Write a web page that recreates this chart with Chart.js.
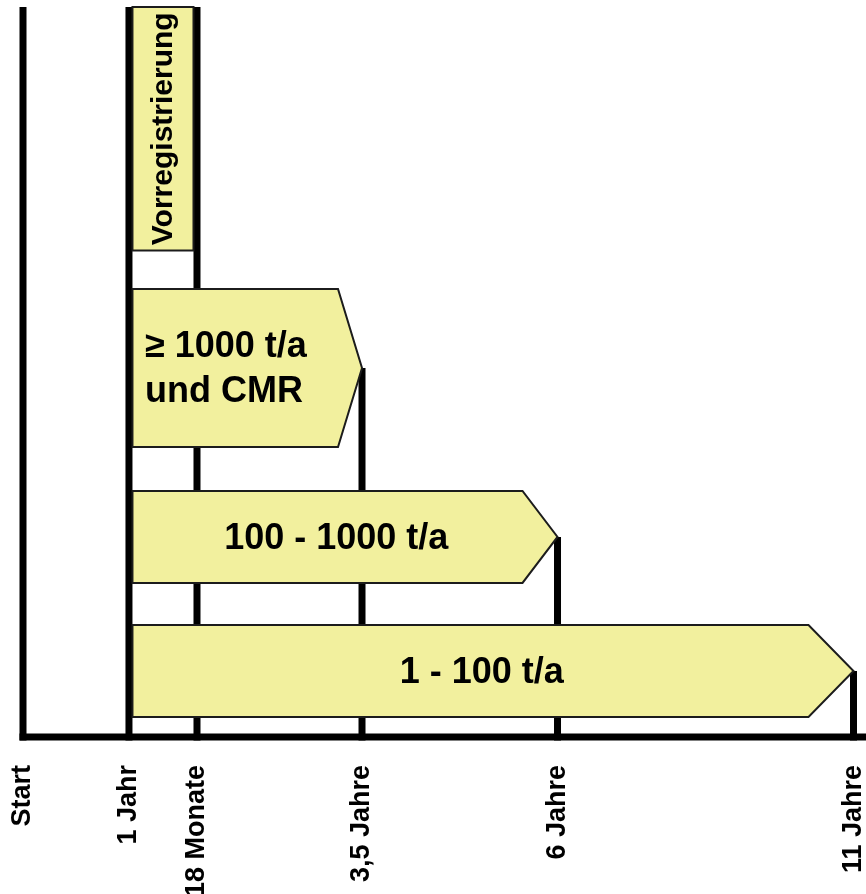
<!DOCTYPE html>
<html>
<head>
<meta charset="utf-8">
<script src="https://cdn.jsdelivr.net/npm/chart.js@4.4.1/dist/chart.umd.min.js"></script>
<style>
  html, body { margin: 0; padding: 0; background: #ffffff; }
  #wrap { width: 866px; height: 894px; position: relative; }
</style>
</head>
<body>
<div id="wrap"><canvas id="chart"></canvas></div>
<script>
// Milestones on the time axis (years after start) and their labels
const MILESTONE_YEARS = [0, 1, 1.5, 3.5, 6, 11];
const MILESTONE_LABELS = ['Start', '1 Jahr', '18 Monate', '3,5 Jahre', '6 Jahre', '11 Jahre'];

// Phases: label, start year, deadline year
const PHASE_LABELS = ['Vorregistrierung', ['≥ 1000 t/a', 'und CMR'], '100 - 1000 t/a', '1 - 100 t/a'];
const PHASE_START = [1, 1, 1, 1];
const PHASE_END = [1.5, 3.5, 6, 11];

// Layout of the diagram (not data)
const LANES = [[0, 33.36], [38.63, 60.27], [66.3, 78.9], [84.66, 97.26]]; // lane top/bottom in y units
const SHAPE = ['box', 'arrow', 'arrow', 'arrow'];
const HEAD_DEPTH = [0, 24, 35, 45];
const LABEL_MODE = ['vertical', 'left', 'center', 'center'];
const AXIS_FRACTIONS = [0, 0.1276, 0.2095, 0.4082, 0.6436, 1]; // schematic spacing of the milestones

const FONT = '"Liberation Sans", Arial, Helvetica, sans-serif';
const FILL = 'rgb(242, 240, 158)';
const EDGE = '#1c1c1c';
const LINE_W = 7;

// Schematic time axis: piecewise-linear between milestones
class TimelineScale extends Chart.LinearScale {
  static id = 'timeline';
  static defaults = {};
  getPixelForValue(value) {
    if (value === null || value === undefined || isNaN(value)) return NaN;
    const v = MILESTONE_YEARS, f = AXIS_FRACTIONS;
    let i = 1;
    while (i < v.length - 1 && value > v[i]) i++;
    const t = (value - v[i - 1]) / (v[i] - v[i - 1]);
    return this.getPixelForDecimal(f[i - 1] + t * (f[i] - f[i - 1]));
  }
  getValueForPixel(pixel) {
    const d = this.getDecimalForPixel(pixel);
    const v = MILESTONE_YEARS, f = AXIS_FRACTIONS;
    let i = 1;
    while (i < f.length - 1 && d > f[i]) i++;
    const t = (d - f[i - 1]) / (f[i] - f[i - 1]);
    return v[i - 1] + t * (v[i] - v[i - 1]);
  }
}
Chart.register(TimelineScale);

const timelinePlugin = {
  id: 'timelineMarks',
  beforeDatasetsDraw(chart) {
    const { ctx, chartArea, scales: { x: xs, y: ys } } = chart;
    ctx.save();
    ctx.strokeStyle = '#000';
    ctx.lineWidth = LINE_W;
    ctx.lineCap = 'butt';
    // milestone lines: from the mark that ends there (or the top) down to the base line
    MILESTONE_YEARS.forEach(m => {
      const px = xs.getPixelForValue(m);
      let top = chartArea.top;
      const k = PHASE_END.indexOf(m);
      if (k >= 0) {
        const t = ys.getPixelForValue(LANES[k][0]);
        const b = ys.getPixelForValue(LANES[k][1]);
        top = SHAPE[k] === 'arrow' ? (t + b) / 2 : t;
      }
      ctx.beginPath();
      ctx.moveTo(px, top);
      ctx.lineTo(px, chartArea.bottom + LINE_W / 2);
      ctx.stroke();
    });
    // base line
    ctx.beginPath();
    ctx.moveTo(xs.getPixelForValue(MILESTONE_YEARS[0]) - LINE_W / 2, chartArea.bottom);
    ctx.lineTo(chart.width, chartArea.bottom);
    ctx.stroke();
    ctx.restore();
  },
  beforeDatasetDraw(chart, args) {
    const { ctx, scales: { y: ys } } = chart;
    const meta = args.meta;
    ctx.save();
    meta.data.forEach((el, i) => {
      const { x, base } = el.getProps(['x', 'base'], true);
      const top = ys.getPixelForValue(LANES[i][0]);
      const bottom = ys.getPixelForValue(LANES[i][1]);
      const mid = (top + bottom) / 2;
      const left = base + LINE_W / 2;
      ctx.beginPath();
      if (SHAPE[i] === 'box') {
        ctx.rect(left, top, (x - LINE_W / 2) - left, bottom - top);
      } else {
        const h = HEAD_DEPTH[i];
        ctx.moveTo(left, top);
        ctx.lineTo(x - h, top);
        ctx.lineTo(x, mid);
        ctx.lineTo(x - h, bottom);
        ctx.lineTo(left, bottom);
        ctx.closePath();
      }
      ctx.fillStyle = FILL;
      ctx.fill();
      ctx.lineWidth = 2;
      ctx.lineJoin = 'miter';
      ctx.strokeStyle = EDGE;
      ctx.stroke();
    });
    ctx.restore();
    return false;
  },
  afterDatasetsDraw(chart) {
    const { ctx, scales: { y: ys } } = chart;
    const meta = chart.getDatasetMeta(0);
    ctx.save();
    ctx.fillStyle = '#000';
    ctx.textBaseline = 'middle';
    meta.data.forEach((el, i) => {
      const { x, base } = el.getProps(['x', 'base'], true);
      const top = ys.getPixelForValue(LANES[i][0]);
      const bottom = ys.getPixelForValue(LANES[i][1]);
      const mid = (top + bottom) / 2;
      const left = base + LINE_W / 2;
      const label = PHASE_LABELS[i];
      if (LABEL_MODE[i] === 'vertical') {
        const right = x - LINE_W / 2;
        ctx.save();
        ctx.translate((left + right) / 2, mid);
        ctx.rotate(-Math.PI / 2);
        ctx.font = 'bold 30px ' + FONT;
        ctx.textAlign = 'center';
        ctx.fillText(label, 0, 1);
        ctx.restore();
      } else if (LABEL_MODE[i] === 'left') {
        ctx.font = 'bold 36px ' + FONT;
        ctx.textAlign = 'left';
        const lines = Array.isArray(label) ? label : [label];
        const gap = 45;
        lines.forEach((ln, j) => {
          ctx.fillText(ln, left + 12.5, mid + 2 + (j - (lines.length - 1) / 2) * gap);
        });
      } else {
        ctx.font = 'bold 36px ' + FONT;
        ctx.textAlign = 'center';
        const cx = (left + x - HEAD_DEPTH[i] / 2) / 2;
        ctx.fillText(label, cx, mid + 2.5);
      }
    });
    ctx.restore();
  }
};

new Chart(document.getElementById('chart'), {
  type: 'bar',
  data: {
    datasets: [{
      label: 'Phasen',
      data: PHASE_LABELS.map((_, i) => ({
        x: [PHASE_START[i], PHASE_END[i]],
        y: (LANES[i][0] + LANES[i][1]) / 2
      })),
      backgroundColor: FILL,
      borderColor: EDGE,
      borderWidth: 2,
      grouped: false,
      barThickness: 10
    }]
  },
  options: {
    indexAxis: 'y',
    responsive: true,
    maintainAspectRatio: false,
    animation: false,
    events: [],
    layout: { padding: { top: 7, left: 23, right: 12.5, bottom: 0 } },
    plugins: { legend: { display: false }, tooltip: { enabled: false } },
    scales: {
      x: {
        type: 'timeline',
        min: 0,
        max: 11,
        offset: false,
        grid: { display: false, drawTicks: false },
        border: { display: false },
        afterBuildTicks: s => { s.ticks = MILESTONE_YEARS.map(v => ({ value: v })); },
        afterFit: s => { s.height = 157; s.paddingLeft = 0; s.paddingRight = 0; },
        ticks: {
          autoSkip: false,
          minRotation: 90,
          maxRotation: 90,
          padding: 28,
          color: '#000',
          font: { family: FONT, size: 27, weight: 'bold' },
          callback: (v, i) => MILESTONE_LABELS[i]
        }
      },
      y: {
        type: 'linear',
        display: false,
        offset: false,
        min: 0,
        max: 100,
        reverse: true
      }
    }
  },
  plugins: [timelinePlugin]
});
</script>
</body>
</html>
